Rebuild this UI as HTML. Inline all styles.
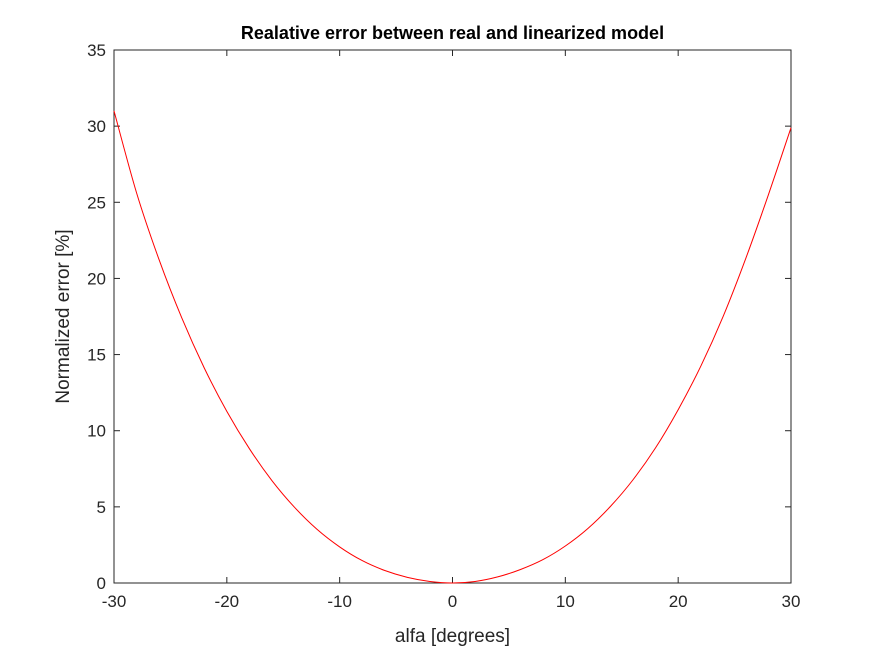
<!DOCTYPE html>
<html><head><meta charset="utf-8"><style>
body{margin:0;background:#fff;}
svg text{font-family:"Liberation Sans",Arial,sans-serif;fill:#262626;}
</style></head><body>
<svg width="875" height="656" viewBox="0 0 875 656" id="chart">
<rect x="0" y="0" width="875" height="656" fill="#fff"/>
<g id="plot"></g>
</svg>
<script>
const xValues=[-30,-28,-26,-24,-22,-20,-18,-16,-14,-12,-10,-8,-6,-4,-2,0,2,4,6,8,10,12,14,16,18,20,22,24,26,28,30];
const errValues=[31,25.62,21.22,17.42,14.12,11.27,8.82,6.72,4.97,3.52,2.37,1.47,0.82,0.37,0.1,0,0.1,0.4,0.88,1.53,2.43,3.58,5.03,6.78,8.88,11.38,14.23,17.53,21.33,25.5,29.9];
const xTicks=[-30,-20,-10,0,10,20,30];
const yTicks=[0,5,10,15,20,25,30,35];
const L=114,R=791,T=50,B=583;
const sx=v=>L+(v+30)/60*(R-L);
const sy=v=>B-v/35*(B-T);
const NS='http://www.w3.org/2000/svg';
const g=document.getElementById('plot');
function mk(tag,attrs,txt){const e=document.createElementNS(NS,tag);for(const k in attrs)e.setAttribute(k,attrs[k]);if(txt!==undefined)e.textContent=txt;g.appendChild(e);return e;}
const box=mk('rect',{x:L,y:T,width:R-L,height:B-T,fill:'#fff',stroke:'#262626','stroke-width':1});


xTicks.forEach(t=>{
 const x=sx(t);
 const a=mk('line',{x1:x,x2:x,y1:B,y2:B-6,stroke:'#262626'});
 
 
 const b=mk('line',{x1:x,x2:x,y1:T,y2:T+6,stroke:'#262626'});
 
 
 const l=mk('text',{x:x,y:B+24,'text-anchor':'middle','font-size':17},String(t));
 
 
});
yTicks.forEach(t=>{
 const y=sy(t);
 const a=mk('line',{x1:L,x2:L+6,y1:y,y2:y,stroke:'#262626'});
 
 
 const b=mk('line',{x1:R,x2:R-6,y1:y,y2:y,stroke:'#262626'});
 
 
 const l=mk('text',{x:L-8,y:y+6,'text-anchor':'end','font-size':17},String(t));
 
 
});
const pts=xValues.map((v,i)=>[sx(v),sy(errValues[i])]);
let d='M'+pts[0][0]+','+pts[0][1];
for(let i=0;i<pts.length-1;i++){
 const p0=pts[Math.max(0,i-1)],p1=pts[i],p2=pts[i+1],p3=pts[Math.min(pts.length-1,i+2)];
 const c1=[p1[0]+(p2[0]-p0[0])/6,p1[1]+(p2[1]-p0[1])/6];
 const c2=[p2[0]-(p3[0]-p1[0])/6,p2[1]-(p3[1]-p1[1])/6];
 d+=' C'+c1[0]+','+c1[1]+' '+c2[0]+','+c2[1]+' '+p2[0]+','+p2[1];
}
const line=mk('path',{d:d,fill:'none',stroke:'#ff0000','stroke-width':1});


const title=mk('text',{x:(L+R)/2,y:39,'text-anchor':'middle','font-size':18,'font-weight':'bold',style:'fill:#000'},'Realative error between real and linearized model');


const xt=mk('text',{x:(L+R)/2,y:642,'text-anchor':'middle','font-size':19},'alfa [degrees]');


const yt=mk('text',{x:0,y:0,'text-anchor':'middle','font-size':19,transform:'translate(69,'+((T+B)/2)+') rotate(-90)'},'Normalized error [%]');


</script>
</body></html>
